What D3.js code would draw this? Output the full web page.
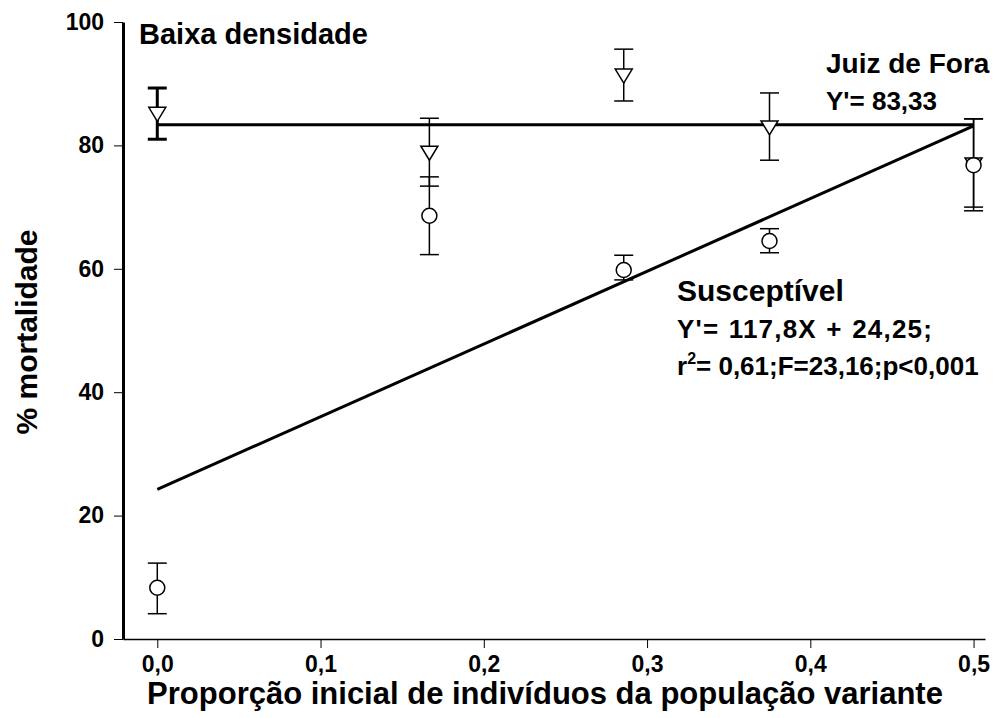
<!DOCTYPE html>
<html>
<head>
<meta charset="utf-8">
<script src="https://cdn.jsdelivr.net/npm/d3@7"></script>
<style>
  html, body { margin: 0; padding: 0; background: #fff; }
  svg { display: block; font-family: Arial, "Liberation Sans", sans-serif; }
</style>
</head>
<body>
<svg id="chart" width="1004" height="718"></svg>
<script>
// Proportion of variant individuals at the start
const proportions = [0, 1/6, 2/7, 3/8, 1/2];

// Juiz de Fora population (triangles): mean mortality and error bar bounds
const juizMean  = [85.2, 78.9, 91.4, 83.0, 77.0];
const juizLow   = [81.0, 73.4, 87.2, 77.6, 70.0];
const juizHigh  = [89.3, 84.4, 95.6, 88.5, 84.3];

// Susceptible population (circles): mean mortality and error bar bounds
const suscMean  = [8.3, 68.6, 59.8, 64.5, 76.8];
const suscLow   = [4.1, 62.3, 58.2, 62.6, 69.4];
const suscHigh  = [12.3, 74.9, 62.2, 66.5, 84.3];

// Fitted models
const juizFit = { intercept: 83.33, slope: 0 };
const suscFit = { intercept: 24.25, slope: 117.8 };

const xTicks = [0, 0.1, 0.2, 0.3, 0.4, 0.5];
const yTicks = [0, 20, 40, 60, 80, 100];

const svg = d3.select("#chart");
const x = d3.scaleLinear().domain([-0.021, 0.507]).range([123, 985]);
const y = d3.scaleLinear().domain([0, 100]).range([639, 22]);
const fmtX = v => d3.format(".1f")(v).replace(".", ",");
const FONT = "Arial, 'Liberation Sans', sans-serif";

// Axes
const xAxis = svg.append("g")
  .attr("transform", `translate(0,${y(0)})`)
  .call(d3.axisBottom(x).tickValues(xTicks).tickFormat(fmtX).tickSize(9).tickSizeOuter(0));
xAxis.select(".domain").attr("stroke-width", 1.3);
xAxis.selectAll(".tick line").attr("stroke-width", 1);
xAxis.selectAll("text").attr("font-size", 23).attr("font-weight", "bold")
  .attr("font-family", FONT).attr("dy", "0.9em");

const yAxis = svg.append("g")
  .attr("transform", `translate(${x.range()[0]},0)`)
  .call(d3.axisLeft(y).tickValues(yTicks).tickSize(9).tickSizeOuter(0));
yAxis.select(".domain").attr("stroke-width", 3);
yAxis.selectAll(".tick line").attr("stroke-width", 1);
yAxis.selectAll("text").attr("font-size", 23).attr("font-weight", "bold")
  .attr("font-family", FONT).attr("dx", "-0.3em");

// Axis titles
svg.append("text")
  .attr("x", 545).attr("y", 704)
  .attr("text-anchor", "middle")
  .attr("font-size", 31).attr("font-weight", "bold")
  .text("Proporção inicial de indivíduos da população variante");

svg.append("text")
  .attr("transform", "translate(37,332) rotate(-90)")
  .attr("text-anchor", "middle")
  .attr("font-size", 30).attr("font-weight", "bold")
  .text("% mortalidade");

// Regression lines
const x0 = d3.min(proportions), x1 = d3.max(proportions);
[juizFit, suscFit].forEach(f => {
  svg.append("line")
    .attr("x1", x(x0)).attr("y1", y(f.intercept + f.slope * x0))
    .attr("x2", x(x1)).attr("y2", y(f.intercept + f.slope * x1))
    .attr("stroke", "#000").attr("stroke-width", 3);
});

// Error bars
const capHalf = 9.5;
function errorBars(low, high, widthFn) {
  const g = svg.append("g").attr("stroke", "#000");
  proportions.forEach((p, i) => {
    const w = widthFn(i);
    const cx = x(p);
    g.append("line").attr("x1", cx).attr("x2", cx)
      .attr("y1", y(low[i])).attr("y2", y(high[i])).attr("stroke-width", w);
    [low[i], high[i]].forEach(v => {
      g.append("line").attr("x1", cx - capHalf).attr("x2", cx + capHalf)
        .attr("y1", y(v)).attr("y2", y(v)).attr("stroke-width", w);
    });
  });
}
errorBars(juizLow, juizHigh, i => i === 0 ? 3 : 1.5);
errorBars(suscLow, suscHigh, () => 1.5);

// Markers: downward triangles for Juiz de Fora
const triW = 17, triH = 14;
svg.append("g").selectAll("path")
  .data(proportions)
  .join("path")
  .attr("transform", (p, i) => `translate(${x(p)},${y(juizMean[i])})`)
  .attr("d", `M${-triW/2},${-triH/2 + 1} L${triW/2},${-triH/2 + 1} L0,${triH/2 + 1} Z`)
  .attr("fill", "#fff").attr("stroke", "#000").attr("stroke-width", 1.5);

// Markers: circles for susceptible population
svg.append("g").selectAll("circle")
  .data(proportions)
  .join("circle")
  .attr("cx", p => x(p))
  .attr("cy", (p, i) => y(suscMean[i]))
  .attr("r", 7.5)
  .attr("fill", "#fff").attr("stroke", "#000").attr("stroke-width", 1.5);

// Annotations
const note = (tx, ty, size, str) => svg.append("text")
  .attr("x", tx).attr("y", ty).attr("font-size", size).attr("font-weight", "bold").text(str);

note(139, 44, 29, "Baixa densidade");
note(826, 73, 28, "Juiz de Fora");
note(826, 110, 26, "Y'= 83,33");
note(677, 301, 30, "Susceptível");
note(677, 338, 26, "Y'= 117,8X + 24,25;").attr("letter-spacing", 1.2).attr("word-spacing", 1);

const r2 = svg.append("text").attr("x", 677).attr("y", 375)
  .attr("font-size", 26).attr("font-weight", "bold");
r2.append("tspan").text("r");
r2.append("tspan").attr("font-size", 16).attr("dy", -11).text("2");
r2.append("tspan").attr("dy", 11).text("= 0,61;F=23,16;p<0,001");
</script>
</body>
</html>
